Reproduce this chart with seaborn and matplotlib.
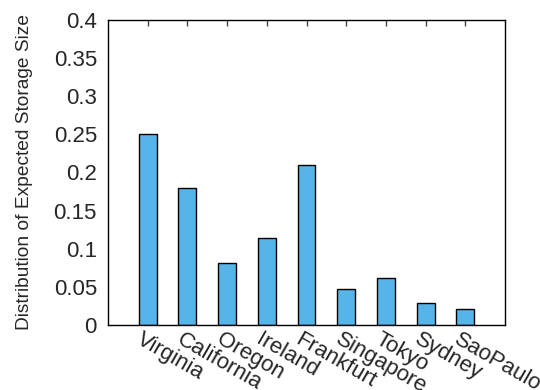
import matplotlib
matplotlib.use("Agg")
import matplotlib.pyplot as plt
import matplotlib.transforms as mtransforms
import seaborn as sns
import pandas as pd

regions = ["Virginia", "California", "Oregon", "Ireland", "Frankfurt",
           "Singapore", "Tokyo", "Sydney", "SaoPaulo"]
shares = [0.251, 0.180, 0.081, 0.1145, 0.210, 0.047, 0.062, 0.029, 0.0205]
y_ticks = [0, 0.05, 0.1, 0.15, 0.2, 0.25, 0.3, 0.35, 0.4]
y_tick_labels = ["0", "0.05", "0.1", "0.15", "0.2", "0.25", "0.3", "0.35", "0.4"]

sns.set_theme(style="white")
plt.rcParams["font.family"] = ["Liberation Sans", "DejaVu Sans"]

df = pd.DataFrame({"region": regions, "share": shares})

fig = plt.figure(figsize=(5.4, 3.9), dpi=100)
ax = fig.add_axes([108 / 540, 1 - 325 / 390, 397 / 540, 305 / 390])

sns.barplot(data=df, x="region", y="share", color="#56B4E9", saturation=1,
            edgecolor="black", linewidth=1.0, width=0.45, ax=ax)

ax.set_xlim(-1, 9)
ax.set_ylim(0, 0.4)
ax.set_yticks(y_ticks)
ax.set_yticklabels(y_tick_labels, fontsize=16)
ax.set_xticks(range(len(regions)))
ax.set_xticklabels(regions, fontsize=16, rotation=-30, ha="left", va="top",
                   rotation_mode="anchor")
ax.tick_params(axis="y", length=0, pad=8)
ax.tick_params(axis="x", which="both", direction="in", length=4, width=1,
               color="#444444", top=True, bottom=True, pad=3)

# shift the slanted region names a little to the left of their ticks
shift = mtransforms.ScaledTranslation(-4 / 100, 0, fig.dpi_scale_trans)
for lbl in ax.get_xticklabels():
    lbl.set_transform(lbl.get_transform() + shift)

ax.set_xlabel("")
ax.set_ylabel("Distribution of Expected Storage Size", fontsize=13.8)
ax.yaxis.set_label_coords(-0.19, 0.5)

for spine in ax.spines.values():
    spine.set_visible(True)
    spine.set_color("black")
    spine.set_linewidth(1.0)

fig.savefig("out.png", dpi=100)
